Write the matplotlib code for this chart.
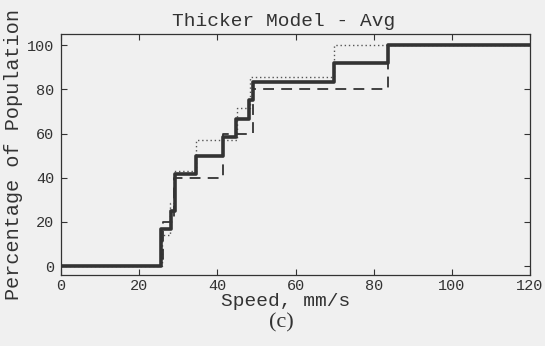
import matplotlib
matplotlib.use("Agg")
import matplotlib.pyplot as plt

# Data (step CDFs)
solid_x = [0, 25.6, 28.1, 29.1, 34.5, 41.5, 44.8, 48.2, 49.0, 69.9, 83.6, 120]
solid_y = [0, 16.7, 25.0, 41.7, 50.0, 58.3, 66.7, 75.0, 83.3, 91.7, 100, 100]

dashed_x = [0, 26.0, 28.8, 41.5, 49.2, 83.6, 120]
dashed_y = [0, 20, 40, 60, 80, 100, 100]

dotted_x = [0, 25.8, 28.0, 29.0, 34.5, 45.0, 48.4, 69.9, 120]
dotted_y = [0, 14.3, 28.6, 42.9, 57.1, 71.4, 85.7, 100, 100]

xticks = [0, 20, 40, 60, 80, 100, 120]
yticks = [0, 20, 40, 60, 80, 100]

bg = "#f0f0f0"
ink = "#333333"
mono = ["Liberation Mono", "DejaVu Sans Mono"]

fig = plt.figure(figsize=(5.45, 3.46), dpi=100, facecolor=bg)
ax = fig.add_axes([0.112, 0.205, 0.8605, 0.6967], facecolor=bg)

ax.step(dotted_x, dotted_y, where="post", color="#555555", lw=1.0, linestyle=(0, (1, 2)))
ax.step(dashed_x, dashed_y, where="post", color=ink, lw=1.3, linestyle=(0, (6, 4)))
ax.step(solid_x, solid_y, where="post", color=ink, lw=2.6)

ax.set_xlim(0, 120)
ax.set_ylim(-4, 105)
ax.set_xticks(xticks)
ax.set_yticks(yticks)
ax.tick_params(direction="in", top=True, right=True, length=4, width=0.8,
               colors=ink, labelsize=11)
ax.tick_params(axis="x", pad=3)
ax.tick_params(axis="y", pad=5)
for lab in ax.get_xticklabels() + ax.get_yticklabels():
    lab.set_family(mono)
for s in ax.spines.values():
    s.set_color(ink)
    s.set_linewidth(0.9)

ax.set_title("Thicker Model - Avg", family=mono, fontsize=14, color=ink, pad=6, x=0.475)
ax.set_xlabel("Speed, mm/s", family=mono, fontsize=14, color=ink, labelpad=0)
ax.xaxis.set_label_coords(0.478, -0.075)
ax.set_ylabel("Percentage of Population", family=mono, fontsize=14.5, color=ink, labelpad=3)

fig.text(0.517, 0.068, "(c)", family=["Liberation Serif"], fontsize=16, color=ink,
         ha="center", va="center")

fig.savefig("out.png", dpi=100, facecolor=bg)
